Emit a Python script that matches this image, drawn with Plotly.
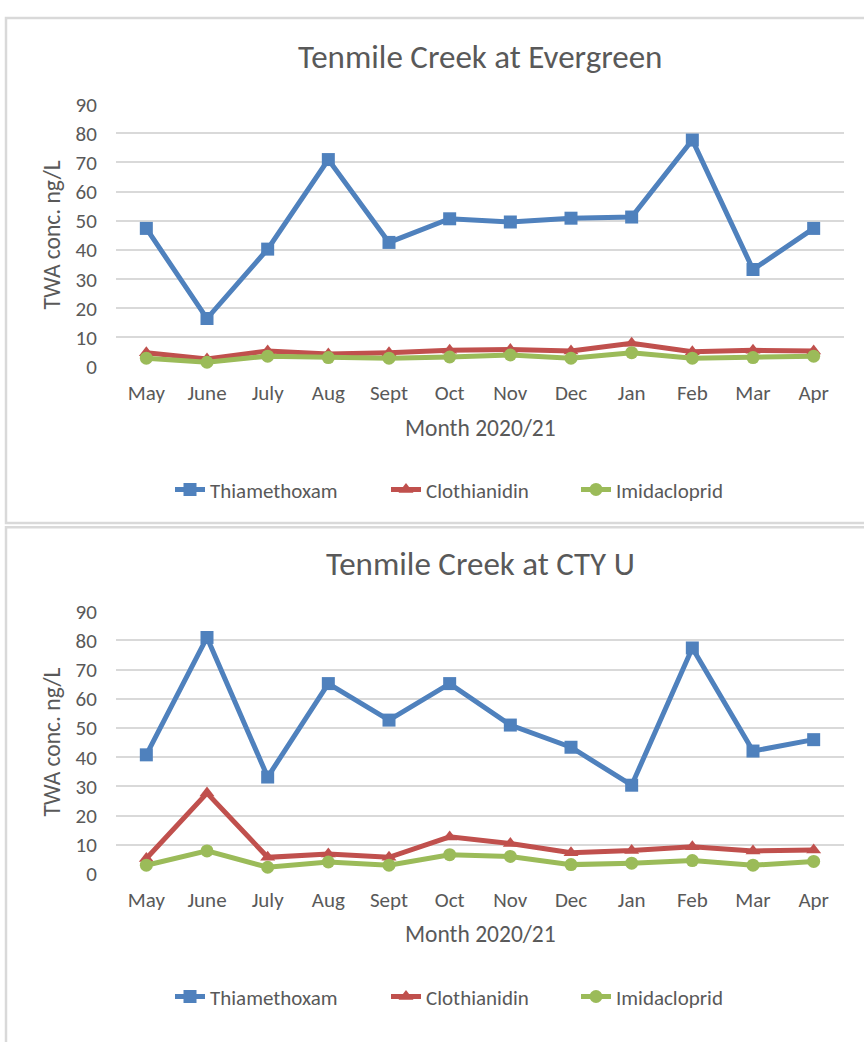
import plotly.graph_objects as go

months = ["May", "June", "July", "Aug", "Sept", "Oct", "Nov", "Dec", "Jan", "Feb", "Mar", "Apr"]

# Tenmile Creek at Evergreen
ever_thiamethoxam = [47.4, 16.5, 40.3, 71.0, 42.6, 50.7, 49.6, 50.9, 51.3, 77.7, 33.3, 47.4]
ever_clothianidin = [4.8, 2.6, 5.4, 4.3, 4.8, 5.6, 5.9, 5.4, 8.0, 5.1, 5.6, 5.4]
ever_imidacloprid = [2.9, 1.5, 3.6, 3.1, 2.9, 3.3, 4.0, 2.9, 4.8, 2.9, 3.1, 3.6]

# Tenmile Creek at CTY U
ctyu_thiamethoxam = [40.8, 81.0, 33.2, 65.2, 52.7, 65.2, 51.0, 43.4, 30.4, 77.4, 42.1, 46.0]
ctyu_clothianidin = [5.3, 27.7, 5.7, 6.8, 5.7, 12.7, 10.4, 7.3, 8.0, 9.3, 7.9, 8.2]
ctyu_imidacloprid = [3.0, 7.9, 2.3, 4.1, 3.0, 6.6, 6.0, 3.2, 3.7, 4.6, 3.0, 4.3]

titles = ["Tenmile Creek at Evergreen", "Tenmile Creek at CTY U"]
series_names = ["Thiamethoxam", "Clothianidin", "Imidacloprid"]
y_ticks = [0, 10, 20, 30, 40, 50, 60, 70, 80, 90]

colors = ["#4f81bd", "#c0504d", "#9bbb59"]
symbols = ["square", "triangle-up", "circle"]
msizes = [13, 13, 13]

W, H = 864, 1042
FONT = "Carlito, Calibri, Lato, sans-serif"
TXT = "#595959"
GRID = "#d9d9d9"

def py(p):
    return 1 - p / H

fig = go.Figure()

panels = [
    dict(data=[ever_thiamethoxam, ever_clothianidin, ever_imidacloprid], xa="x", ya="y",
         y0=362.7, y1=93.5, title_y=45, xt_y=426, leg_y=489),
    dict(data=[ctyu_thiamethoxam, ctyu_clothianidin, ctyu_imidacloprid], xa="x2", ya="y2",
         y0=883, y1=613.5, title_y=565, xt_y=945, leg_y=1009),
]

x0p, x1p = 116, 844
legend_text_x = [212, 428, 618]

annotations = []
legends = {}
legend_common = dict(orientation="h", xanchor="left", yanchor="middle",
                     font=dict(family=FONT, size=21, color=TXT), bgcolor="rgba(0,0,0,0)",
                     itemclick=False, itemdoubleclick=False)
for i, p in enumerate(panels):
    for k in range(3):
        idx = i * 3 + k + 1
        lname = "legend" if idx == 1 else f"legend{idx}"
        legends[lname] = dict(x=(legend_text_x[k] - 42) / W, y=py(p["leg_y"]), **legend_common)
        fig.add_trace(go.Scatter(
            x=months, y=p["data"][k], name=series_names[k], mode="lines+markers",
            line=dict(color=colors[k], width=5),
            marker=dict(symbol=symbols[k], size=msizes[k], color=colors[k]),
            xaxis=p["xa"], yaxis=p["ya"], legend=lname, cliponaxis=False,
        ))
    annotations.append(dict(text=titles[i], x=(x0p + x1p) / 2 / W - 0.0, y=py(p["title_y"]),
                            xref="paper", yref="paper", showarrow=False,
                            font=dict(family=FONT, size=33, color=TXT), xanchor="center", yanchor="middle"))
    annotations.append(dict(text="Month 2020/21", x=(x0p + x1p) / 2 / W, y=py(p["xt_y"]),
                            xref="paper", yref="paper", showarrow=False,
                            font=dict(family=FONT, size=23.5, color=TXT), xanchor="center", yanchor="middle"))
    annotations.append(dict(text="TWA conc. ng/L", x=52 / W, y=py((p["y0"] + p["y1"]) / 2),
                            xref="paper", yref="paper", showarrow=False, textangle=-90,
                            font=dict(family=FONT, size=23.5, color=TXT), xanchor="center", yanchor="middle"))

axis_common_x = dict(type="category", range=[-0.5, 11.5], showgrid=False, zeroline=False,
                     showline=False, ticks="outside", ticklen=7, tickcolor="rgba(0,0,0,0)",
                     tickfont=dict(family=FONT, size=21, color=TXT), fixedrange=True)
axis_common_y = dict(range=[0, 90], tickvals=y_ticks, showgrid=True, gridcolor=GRID, gridwidth=2,
                     zeroline=False, showline=False, ticks="outside", ticklen=14,
                     tickcolor="rgba(0,0,0,0)", tickfont=dict(family=FONT, size=21, color=TXT),
                     fixedrange=True)

shapes = [
    dict(type="rect", xref="paper", yref="paper", x0=6 / W, x1=1.05, y0=py(523), y1=py(5),
         line=dict(color=GRID, width=2.5), fillcolor="rgba(0,0,0,0)", layer="below"),
    dict(type="rect", xref="paper", yref="paper", x0=6 / W, x1=1.05, y0=-0.05, y1=py(527.5),
         line=dict(color=GRID, width=2.5), fillcolor="rgba(0,0,0,0)", layer="below"),
]

fig.update_layout(
    width=W, height=H, margin=dict(l=0, r=0, t=0, b=0),
    paper_bgcolor="white", plot_bgcolor="white",
    xaxis=dict(domain=[x0p / W, x1p / W], anchor="y", **axis_common_x),
    yaxis=dict(domain=[py(362.7), py(93.5)], anchor="x", **axis_common_y),
    xaxis2=dict(domain=[x0p / W, x1p / W], anchor="y2", **axis_common_x),
    yaxis2=dict(domain=[py(883), py(613.5)], anchor="x2", **axis_common_y),
    annotations=annotations, shapes=shapes, showlegend=True,
    **legends,
)

fig.write_html("out.html", config={"displayModeBar": False},
               post_script="document.body.style.margin='0';document.body.style.overflow='hidden';")
